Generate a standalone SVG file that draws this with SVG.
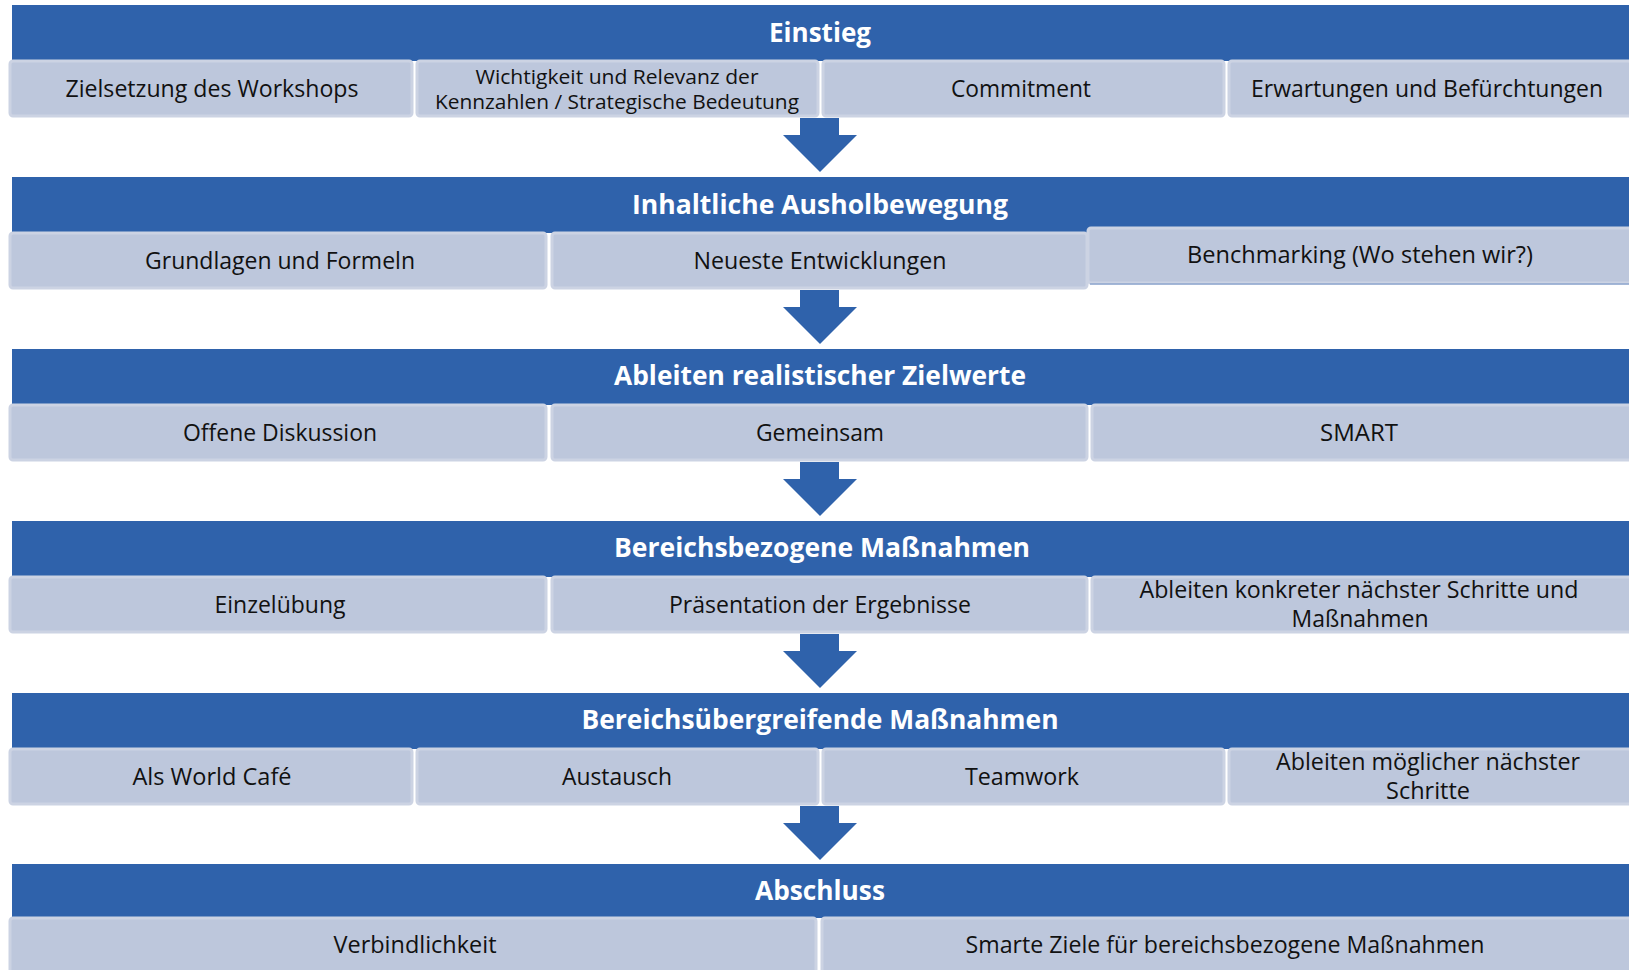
<svg xmlns="http://www.w3.org/2000/svg" width="1629" height="970" viewBox="0 0 1629 970">
<style>
.hdr{fill:#2F62AB}
.box{fill:#BDC7DC;stroke:#CCD3E3;stroke-width:3}
.ht{font-family:"Open Sans","DejaVu Sans",sans-serif;font-weight:bold;font-size:26px;fill:#FFFFFF;text-anchor:middle}
.bt{font-family:"Open Sans","DejaVu Sans",sans-serif;font-size:23px;fill:#111111;text-anchor:middle}
.st{font-family:"Open Sans","DejaVu Sans",sans-serif;font-size:20px;fill:#111111;text-anchor:middle}
.arr{fill:#2F62AB}
</style>
<rect width="1629" height="970" fill="#FFFFFF"/>

<g id="stage1">
<rect class="hdr" x="12" y="5" width="1617" height="56"/>
<text class="ht" x="820" y="42" textLength="102" lengthAdjust="spacingAndGlyphs">Einstieg</text>
</g>
<g id="s1a"><rect class="box" x="10" y="61" width="402" height="55" rx="3"/><text class="bt" x="212" y="97" textLength="293" lengthAdjust="spacingAndGlyphs">Zielsetzung des Workshops</text></g>
<g id="s1b"><rect class="box" x="417" y="61" width="401" height="55" rx="3"/><text class="st" x="617" y="84" textLength="283" lengthAdjust="spacingAndGlyphs">Wichtigkeit und Relevanz der</text><text class="st" x="617" y="109" textLength="364" lengthAdjust="spacingAndGlyphs">Kennzahlen / Strategische Bedeutung</text></g>
<g id="s1c"><rect class="box" x="823" y="61" width="401" height="55" rx="3"/><text class="bt" x="1021" y="97" textLength="140" lengthAdjust="spacingAndGlyphs">Commitment</text></g>
<g id="s1d"><rect class="box" x="1229" y="61" width="402" height="55" rx="3"/><text class="bt" x="1427" y="97" textLength="352" lengthAdjust="spacingAndGlyphs">Erwartungen und Befürchtungen</text></g>

<g id="stage2">
<rect class="hdr" x="12" y="177" width="1617" height="56"/>
<text class="ht" x="820" y="214" textLength="376" lengthAdjust="spacingAndGlyphs">Inhaltliche Ausholbewegung</text>
</g>
<g id="s2a"><rect class="box" x="10" y="233" width="536" height="55" rx="3"/><text class="bt" x="280" y="269" textLength="270" lengthAdjust="spacingAndGlyphs">Grundlagen und Formeln</text></g>
<g id="s2b"><rect class="box" x="552" y="233" width="535" height="55" rx="3"/><text class="bt" x="820" y="269" textLength="253" lengthAdjust="spacingAndGlyphs">Neueste Entwicklungen</text></g>
<g id="s2c"><rect class="box" x="1088" y="228" width="543" height="55" rx="3"/><line x1="1090" y1="284" x2="1629" y2="284" stroke="#8EA6CE" stroke-width="1.5"/><text class="bt" x="1360" y="263" textLength="346" lengthAdjust="spacingAndGlyphs">Benchmarking (Wo stehen wir?)</text></g>

<g id="stage3">
<rect class="hdr" x="12" y="349" width="1617" height="56"/>
<text class="ht" x="820" y="385" textLength="412" lengthAdjust="spacingAndGlyphs">Ableiten realistischer Zielwerte</text>
</g>
<g id="s3a"><rect class="box" x="10" y="405" width="536" height="55" rx="3"/><text class="bt" x="280" y="441" textLength="194" lengthAdjust="spacingAndGlyphs">Offene Diskussion</text></g>
<g id="s3b"><rect class="box" x="552" y="405" width="535" height="55" rx="3"/><text class="bt" x="820" y="441" textLength="128" lengthAdjust="spacingAndGlyphs">Gemeinsam</text></g>
<g id="s3c"><rect class="box" x="1092" y="405" width="540" height="55" rx="3"/><text class="bt" x="1359" y="441" textLength="78" lengthAdjust="spacingAndGlyphs">SMART</text></g>

<g id="stage4">
<rect class="hdr" x="12" y="521" width="1617" height="56"/>
<text class="ht" x="822" y="557" textLength="416" lengthAdjust="spacingAndGlyphs">Bereichsbezogene Maßnahmen</text>
</g>
<g id="s4a"><rect class="box" x="10" y="577" width="536" height="55" rx="3"/><text class="bt" x="280" y="613" textLength="131" lengthAdjust="spacingAndGlyphs">Einzelübung</text></g>
<g id="s4b"><rect class="box" x="552" y="577" width="535" height="55" rx="3"/><text class="bt" x="820" y="613" textLength="302" lengthAdjust="spacingAndGlyphs">Präsentation der Ergebnisse</text></g>
<g id="s4c"><rect class="box" x="1092" y="577" width="540" height="55" rx="3"/><text class="bt" x="1359" y="598" textLength="439" lengthAdjust="spacingAndGlyphs">Ableiten konkreter nächster Schritte und</text><text class="bt" x="1360" y="627" textLength="137" lengthAdjust="spacingAndGlyphs">Maßnahmen</text></g>

<g id="stage5">
<rect class="hdr" x="12" y="693" width="1617" height="56"/>
<text class="ht" x="820" y="729" textLength="477" lengthAdjust="spacingAndGlyphs">Bereichsübergreifende Maßnahmen</text>
</g>
<g id="s5a"><rect class="box" x="10" y="749" width="402" height="55" rx="3"/><text class="bt" x="212" y="785" textLength="159" lengthAdjust="spacingAndGlyphs">Als World Café</text></g>
<g id="s5b"><rect class="box" x="417" y="749" width="401" height="55" rx="3"/><text class="bt" x="617" y="785" textLength="110" lengthAdjust="spacingAndGlyphs">Austausch</text></g>
<g id="s5c"><rect class="box" x="823" y="749" width="401" height="55" rx="3"/><text class="bt" x="1022" y="785" textLength="114" lengthAdjust="spacingAndGlyphs">Teamwork</text></g>
<g id="s5d"><rect class="box" x="1229" y="749" width="402" height="55" rx="3"/><text class="bt" x="1428" y="770" textLength="304" lengthAdjust="spacingAndGlyphs">Ableiten möglicher nächster</text><text class="bt" x="1428" y="799" textLength="84" lengthAdjust="spacingAndGlyphs">Schritte</text></g>

<g id="stage6">
<rect class="hdr" x="12" y="864" width="1617" height="54"/>
<text class="ht" x="820" y="900" textLength="130" lengthAdjust="spacingAndGlyphs">Abschluss</text>
</g>
<g id="s6a"><rect class="box" x="10" y="918" width="806" height="60" rx="3"/><text class="bt" x="415" y="953" textLength="163" lengthAdjust="spacingAndGlyphs">Verbindlichkeit</text></g>
<g id="s6b"><rect class="box" x="822" y="918" width="810" height="60" rx="3"/><text class="bt" x="1225" y="953" textLength="519" lengthAdjust="spacingAndGlyphs">Smarte Ziele für bereichsbezogene Maßnahmen</text></g>

<g id="connectors">
<polygon class="arr" points="800,118 839,118 839,135 857,135 820,172 783,135 800,135"/>
<polygon class="arr" points="800,290 839,290 839,307 857,307 820,344 783,307 800,307"/>
<polygon class="arr" points="800,462 839,462 839,479 857,479 820,516 783,479 800,479"/>
<polygon class="arr" points="800,634 839,634 839,651 857,651 820,688 783,651 800,651"/>
<polygon class="arr" points="800,806 839,806 839,823 857,823 820,860 783,823 800,823"/>
</g>
</svg>
